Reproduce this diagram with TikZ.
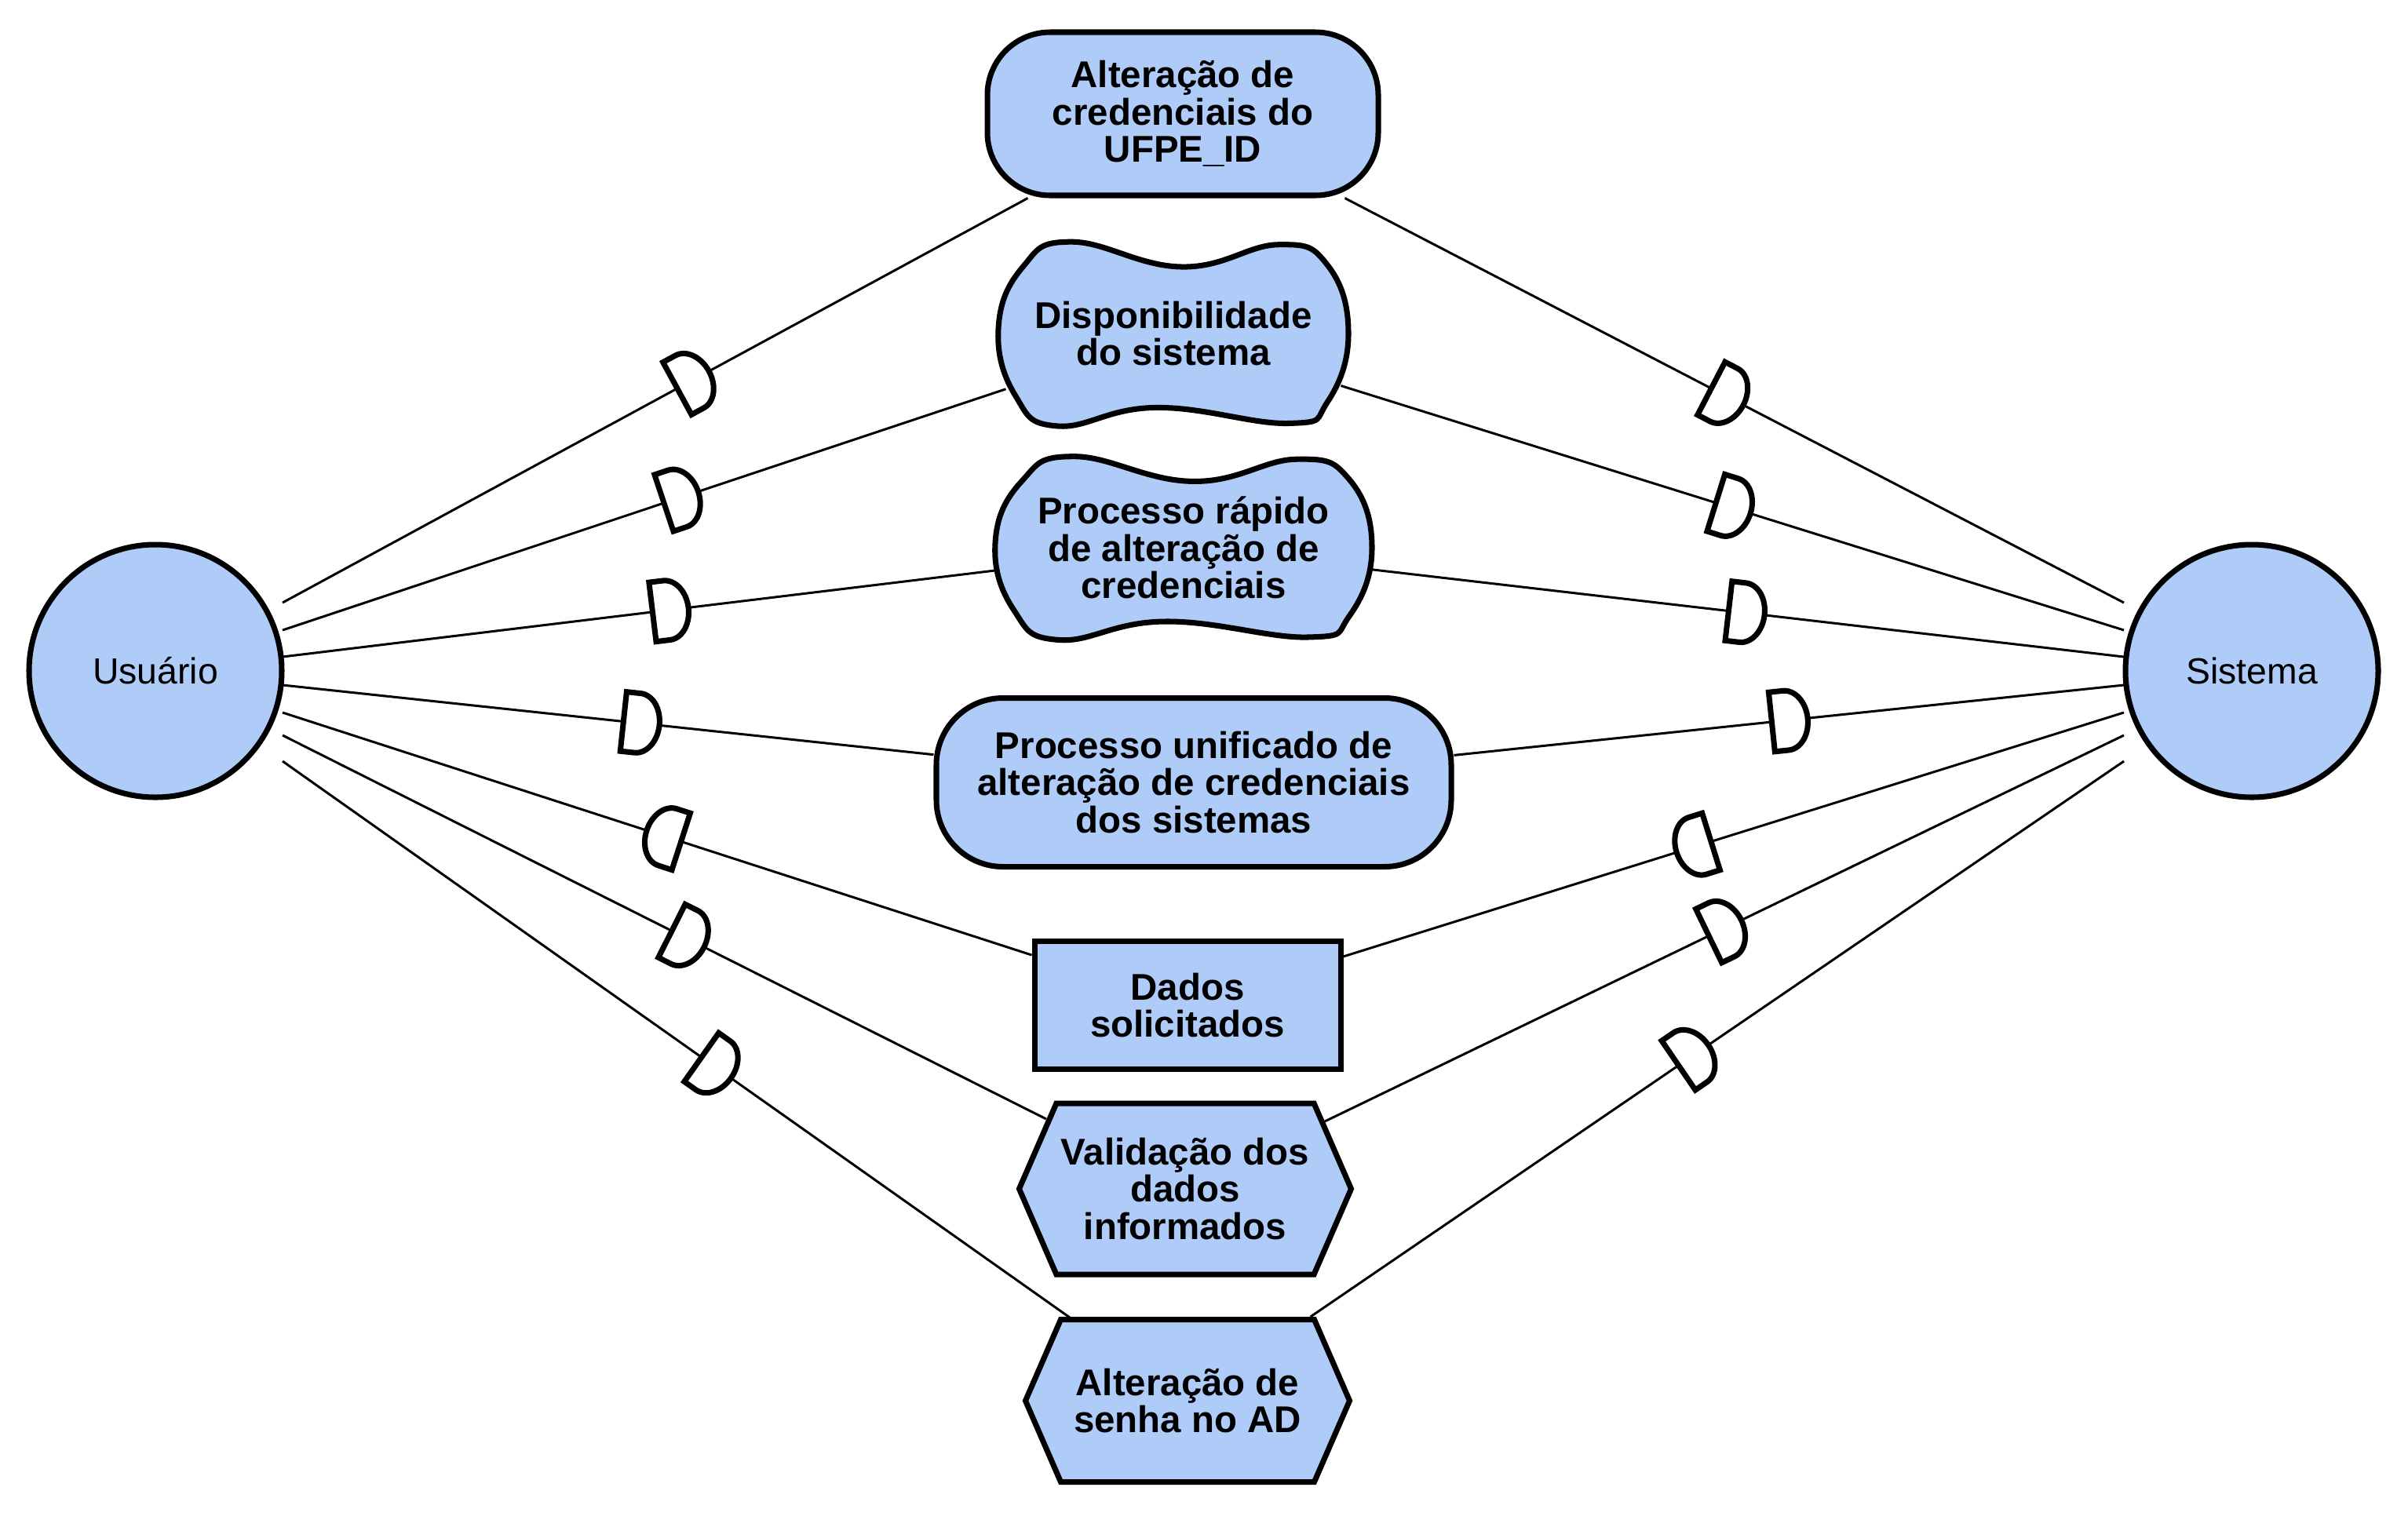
\documentclass[tikz,border=0pt]{standalone}
\usepackage{fontspec}
\setmainfont{Liberation Sans}
\usetikzlibrary{shapes.symbols}
\definecolor{azul}{RGB}{175,203,248}

\begin{document}
\begin{tikzpicture}[
    ator/.style={circle, draw, line width=2pt, fill=azul, minimum size=3.22cm, font=\fontsize{13.2}{13.4}\selectfont},
    elem/.style={draw, line width=2pt, fill=azul, align=center, inner sep=0pt, font=\fontsize{13.5}{13.5}\selectfont\bfseries},
    meta/.style={elem, rectangle, rounded corners=0.8cm},
    metasoft/.style={elem, rectangle, draw=none, fill=none},
    recurso/.style={elem, rectangle},
    tarefa/.style={elem, signal, signal to=east and west, signal pointer angle=133},
    ligacao/.style={line width=0.85pt},
    dep/.pic={\draw[line width=2pt, fill=white] (-0.22,0.38) -- (-0.22,-0.38) -- (-0.04,-0.38)
        arc[start angle=-90, end angle=90, x radius=0.28, y radius=0.38] -- cycle;},
    nuvem/.pic={\draw[line width=2pt, fill=azul] plot[smooth cycle, tension=0.75] coordinates {
        (-1,0.05) (-0.86,0.72) (-0.58,0.99) (0.05,0.72) (0.6,0.96) (0.88,0.74)
        (1,0) (0.88,-0.74) (0.66,-0.97) (-0.1,-0.8) (-0.66,-1.0) (-0.9,-0.68)};}
]
    \useasboundingbox (0,0) rectangle (30.68,-19.36);

    % atores
    \node[ator] (Usuario) at (1.98,-8.55) {Usuário};
    \node[ator] (Sistema) at (28.69,-8.55) {Sistema};

    % dependums
    \pic[xscale=2.23, yscale=1.18] at (14.95,-4.25) {nuvem};
    \pic[xscale=2.40, yscale=1.175] at (15.08,-6.98) {nuvem};
    \node[meta, minimum width=4.98cm, minimum height=2.08cm] (e1) at (15.07,-1.45) {Alteração de\\credenciais do\\UFPE\_ID};
    \node[metasoft, minimum width=4.20cm, minimum height=2.0cm] (e2) at (14.95,-4.25) {Disponibilidade\\do sistema};
    \node[metasoft, minimum width=4.62cm, minimum height=2.0cm] (e3) at (15.08,-6.98) {Processo rápido\\de alteração de\\credenciais};
    \node[meta, minimum width=6.56cm, minimum height=2.15cm, rounded corners=0.85cm] (e4) at (15.21,-9.97) {Processo unificado de\\alteração de credenciais\\dos sistemas};
    \node[recurso, minimum width=3.90cm, minimum height=1.63cm] (e5) at (15.13,-12.81) {Dados\\solicitados};
    \node[tarefa, minimum width=4.23cm, minimum height=2.18cm] (e6) at (15.10,-15.15) {Validação dos\\dados\\informados};
    \node[tarefa, minimum width=4.13cm, minimum height=2.07cm] (e7) at (15.13,-17.85) {Alteração de\\senha no AD};

    % pontos de ligacao
    \coordinate (u1) at (3.60,-7.68);
    \coordinate (u2) at (3.60,-8.03);
    \coordinate (u3) at (3.60,-8.37);
    \coordinate (u4) at (3.60,-8.73);
    \coordinate (u5) at (3.60,-9.08);
    \coordinate (u6) at (3.60,-9.37);
    \coordinate (u7) at (3.60,-9.70);
    \coordinate (s1) at (27.06,-7.68);
    \coordinate (s2) at (27.06,-8.03);
    \coordinate (s3) at (27.06,-8.37);
    \coordinate (s4) at (27.06,-8.73);
    \coordinate (s5) at (27.06,-9.08);
    \coordinate (s6) at (27.06,-9.37);
    \coordinate (s7) at (27.06,-9.70);

    \draw[ligacao] (u1) -- (e1) pic[pos=0.55, sloped] {dep};
    \draw[ligacao] (u2) -- (e2) pic[pos=0.55, sloped] {dep};
    \draw[ligacao] (u3) -- (e3) pic[pos=0.54, sloped] {dep};
    \draw[ligacao] (u4) -- (e4) pic[pos=0.55, sloped] {dep};
    \draw[ligacao] (u5) -- (e5) pic[pos=0.51, sloped, xscale=-1] {dep};
    \draw[ligacao] (u6) -- (e6) pic[pos=0.53, sloped] {dep};
    \draw[ligacao] (u7) -- (e7) pic[pos=0.55, sloped] {dep};

    \draw[ligacao] (e1) -- (s1) pic[pos=0.49, sloped] {dep};
    \draw[ligacao] (e2) -- (s2) pic[pos=0.50, sloped] {dep};
    \draw[ligacao] (e3) -- (s3) pic[pos=0.50, sloped] {dep};
    \draw[ligacao] (e4) -- (s4) pic[pos=0.50, sloped] {dep};
    \draw[ligacao] (e5) -- (s5) pic[pos=0.45, sloped, xscale=-1] {dep};
    \draw[ligacao] (e6) -- (s6) pic[pos=0.50, sloped] {dep};
    \draw[ligacao] (e7) -- (s7) pic[pos=0.47, sloped] {dep};
\end{tikzpicture}
\end{document}
